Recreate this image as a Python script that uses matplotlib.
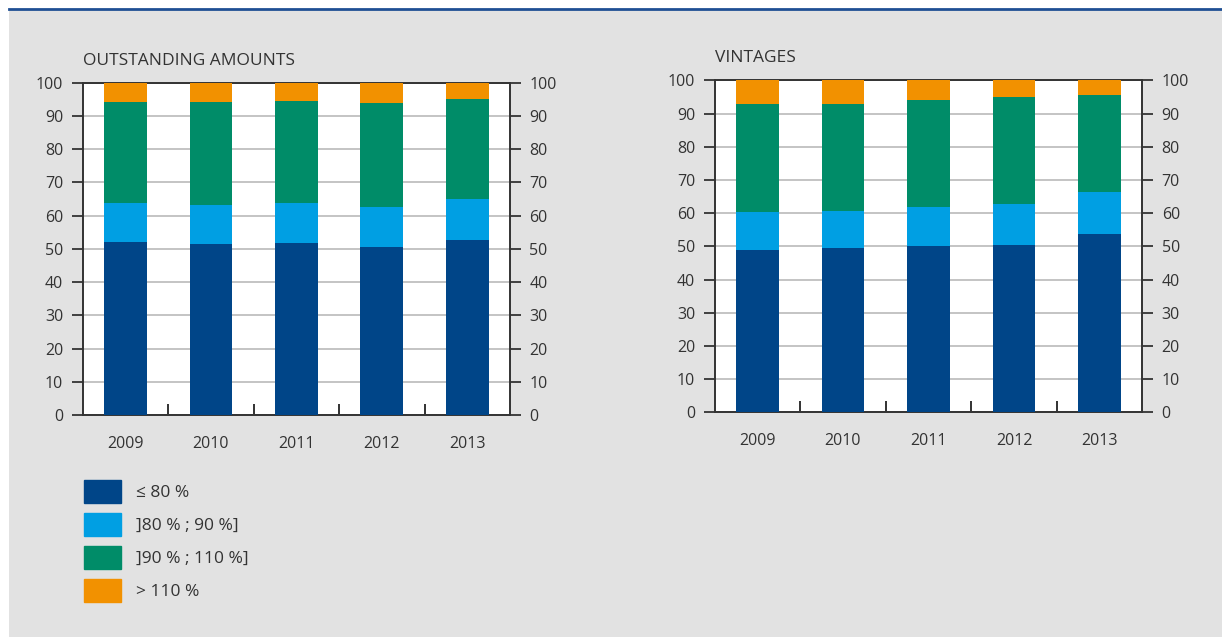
import numpy as np
import matplotlib
matplotlib.use("Agg")
import matplotlib.pyplot as plt
import matplotlib.patches as mpatches
from matplotlib.lines import Line2D

plt.rcParams["font.family"] = ["Open Sans", "DejaVu Sans"]

# ---------------------------------------------------------------------------
# data (share of loans by LTV bucket, %)
# ---------------------------------------------------------------------------
years = ["2009", "2010", "2011", "2012", "2013"]
labels = ["\u2264 80 %", "]80 % ; 90 %]", "]90 % ; 110 %]", "> 110 %"]

# outstanding amounts
out_le80 = [52.1, 51.5, 51.8, 50.6, 52.7]
out_80_90 = [11.7, 11.7, 12.0, 12.0, 12.3]
out_90_110 = [30.4, 31.0, 30.7, 31.3, 30.1]
out_gt110 = [5.8, 5.8, 5.5, 6.1, 4.9]

# vintages
vin_le80 = [48.9, 49.5, 50.1, 50.4, 53.7]
vin_80_90 = [11.4, 11.1, 11.7, 12.4, 12.7]
vin_90_110 = [32.6, 32.3, 32.3, 32.2, 29.2]
vin_gt110 = [7.1, 7.1, 5.9, 5.0, 4.4]

colors = ["#004588", "#009fe3", "#008c68", "#f29100"]
txt = "#333333"

# ---------------------------------------------------------------------------
# figure
# ---------------------------------------------------------------------------
W, H = 1222, 637
fig = plt.figure(figsize=(W / 100, H / 100), dpi=100)
fig.patch.set_facecolor("white")

# grey panel + blue rule on top
fig.add_artist(mpatches.Rectangle((9 / W, 0), 1 - 9 / W, (H - 10) / H,
                                  transform=fig.transFigure,
                                  facecolor="#e2e2e2", edgecolor="none", zorder=0))
fig.add_artist(Line2D([9 / W, 1], [(H - 9) / H] * 2, transform=fig.transFigure,
                      color="#1f4f94", lw=2, zorder=1))

panels = [
    ("OUTSTANDING AMOUNTS", [82.7, 82.7, 510.0, 415.0],
     [out_le80, out_80_90, out_90_110, out_gt110]),
    ("VINTAGES", [714.7, 80.3, 1142.3, 412.3],
     [vin_le80, vin_80_90, vin_90_110, vin_gt110]),
]

x = np.arange(len(years))

for title, (x0, y0, x1, y1), series in panels:
    ax = fig.add_axes([x0 / W, (H - y1) / H, (x1 - x0) / W, (y1 - y0) / H])
    ax.set_facecolor("white")

    bottom = np.zeros(len(years))
    for vals, c in zip(series, colors):
        ax.bar(x, vals, width=0.5, bottom=bottom, color=c, zorder=3)
        bottom += np.array(vals)

    ax.set_xlim(-0.5, len(years) - 0.5)
    ax.set_ylim(0, 100)
    ax.set_yticks(np.arange(0, 101, 10))
    ax.grid(axis="y", color="#c4c4c4", lw=1.4, zorder=0)
    ax.set_axisbelow(True)

    ax.set_xticks(x)
    ax.set_xticklabels(years)
    ax.set_xticks(x[:-1] + 0.5, minor=True)
    ax.tick_params(axis="x", which="major", length=0, pad=15,
                   labelsize=11.5, labelcolor=txt)
    ax.tick_params(axis="x", which="minor", direction="in", length=8,
                   width=1.3, color="#222222")
    ax.tick_params(axis="y", which="major", direction="out", length=8,
                   width=1.3, color="#333333", labelsize=11.5, labelcolor=txt,
                   left=True, right=True, labelleft=True, labelright=True)
    ax.tick_params(axis="y", which="major", pad=6)

    for s in ax.spines.values():
        s.set_color("#333333")
        s.set_linewidth(1.4)

    ax.set_title(title, loc="left", fontsize=12.5, color=txt, pad=13)

# ---------------------------------------------------------------------------
# legend
# ---------------------------------------------------------------------------
handles = [mpatches.Patch(color=c, label=l) for c, l in zip(colors, labels)]
fig.legend(handles=handles, loc="upper left",
           bbox_to_anchor=(70 / W, (H - 466) / H),
           frameon=False, fontsize=12.5, labelcolor=txt,
           handlelength=2.13, handleheight=1.66, handletextpad=0.85,
           labelspacing=0.58, borderpad=0.3)

fig.savefig("out.png", dpi=100, facecolor=fig.get_facecolor())
